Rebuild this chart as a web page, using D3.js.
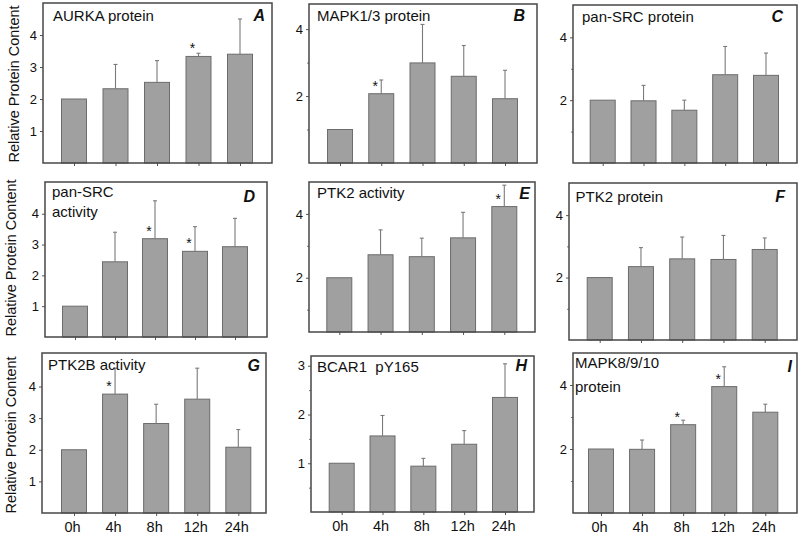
<!DOCTYPE html>
<html>
<head>
<meta charset="utf-8">
<script src="https://cdn.jsdelivr.net/npm/d3@7"></script>
<style>
  html, body { margin: 0; padding: 0; background: #fff; }
  svg { display: block; }
  text { font-family: "Liberation Sans", Arial, Helvetica, sans-serif; }
</style>
</head>
<body>
<svg id="chart" width="800" height="534"></svg>
<script>
// ---------- data ----------
const categories = ["0h", "4h", "8h", "12h", "24h"];
const yAxisTitle = "Relative Protein Content";

const panelLetters = ["A", "B", "C", "D", "E", "F", "G", "H", "I"];
const panelTitles = [
  ["AURKA protein"],
  ["MAPK1/3 protein"],
  ["pan-SRC protein"],
  ["pan-SRC", "activity"],
  ["PTK2 activity"],
  ["PTK2 protein"],
  ["PTK2B activity"],
  ["BCAR1  pY165"],
  ["MAPK8/9/10", "protein"]
];

const aurkaProtein      = [2.00, 2.32, 2.52, 3.33, 3.40];
const aurkaProteinErr   = [0.00, 0.76, 0.68, 0.10, 1.10];
const mapk13Protein     = [1.00, 2.07, 2.99, 2.59, 1.92];
const mapk13ProteinErr  = [0.00, 0.41, 1.15, 0.92, 0.85];
const srcProtein        = [2.00, 1.98, 1.68, 2.81, 2.79];
const srcProteinErr     = [0.00, 0.49, 0.32, 0.90, 0.71];
const srcActivity       = [1.00, 2.44, 3.19, 2.78, 2.93];
const srcActivityErr    = [0.00, 0.96, 1.23, 0.80, 0.92];
const ptk2Activity      = [2.00, 2.72, 2.66, 3.25, 4.23];
const ptk2ActivityErr   = [0.00, 0.78, 0.58, 0.80, 0.67];
const ptk2Protein       = [2.00, 2.35, 2.60, 2.58, 2.90];
const ptk2ProteinErr    = [0.00, 0.61, 0.70, 0.77, 0.37];
const ptk2bActivity     = [2.00, 3.76, 2.83, 3.60, 2.08];
const ptk2bActivityErr  = [0.00, 0.82, 0.61, 0.98, 0.56];
const bcar1pY165        = [1.00, 1.56, 0.94, 1.39, 2.35];
const bcar1pY165Err     = [0.00, 0.42, 0.16, 0.28, 0.69];
const mapk8910Protein   = [2.00, 1.99, 2.76, 3.95, 3.15];
const mapk8910ProteinErr= [0.00, 0.29, 0.14, 0.62, 0.25];

// indices of bars marked significant (*)
const significance = [[3], [1], [], [2, 3], [4], [], [1], [], [2, 3]];

// y tick labels (major) and unlabeled minor ticks
const ticksFour = [1, 2, 3, 4];
const ticksTwoFour = [2, 4];
const minorOneThree = [1, 3];
const ticksH = [1, 2, 3];
const minorH = [0.5, 1.5, 2.5];

const seriesValues = [aurkaProtein, mapk13Protein, srcProtein, srcActivity, ptk2Activity,
                      ptk2Protein, ptk2bActivity, bcar1pY165, mapk8910Protein];
const seriesErrors = [aurkaProteinErr, mapk13ProteinErr, srcProteinErr, srcActivityErr, ptk2ActivityErr,
                      ptk2ProteinErr, ptk2bActivityErr, bcar1pY165Err, mapk8910ProteinErr];
const majorTicks = [ticksFour, ticksTwoFour, ticksTwoFour, ticksFour, ticksTwoFour,
                    ticksTwoFour, ticksFour, ticksH, ticksTwoFour];
const minorTicks = [[], minorOneThree, minorOneThree, [], minorOneThree,
                    minorOneThree, [], minorH, minorOneThree];
const yDomains = [[0, 5], [0, 4.75], [0, 5.03], [0, 5.03], [0.3, 5.0],
                  [0, 5.03], [0, 5.06], [0, 3.2], [0, 5.0]];

// ---------- layout (positions only) ----------
const layout = [
  { x0: 43,  x1: 272, y0: 3,   y1: 163, c0: 74,    c1: 240,   tx: 53,  ty: 20.7, lx: 265, ly: 20.7 },
  { x0: 309, x1: 537, y0: 4,   y1: 163, c0: 340,   c1: 505,   tx: 317, ty: 20.7, lx: 525, ly: 21 },
  { x0: 573, x1: 797, y0: 5,   y1: 163, c0: 602.7, c1: 766,   tx: 582, ty: 21.7, lx: 783, ly: 21.5 },
  { x0: 45,  x1: 267, y0: 182, y1: 337, c0: 75,    c1: 235,   tx: 52,  ty: 196.7, lx: 255, ly: 201.5, lh: 20 },
  { x0: 309, x1: 535, y0: 182, y1: 332, c0: 339.3, c1: 504.3, tx: 317, ty: 198, lx: 530, ly: 199 },
  { x0: 569, x1: 797, y0: 183, y1: 340, c0: 599.7, c1: 764.7, tx: 575.5, ty: 201.5, lx: 785, ly: 201.5 },
  { x0: 42,  x1: 266, y0: 353, y1: 513, c0: 74,    c1: 238.3, tx: 48,  ty: 370, lx: 260, ly: 371 },
  { x0: 311, x1: 534, y0: 356, y1: 512, c0: 341.7, c1: 505,   tx: 317, ty: 371.5, lx: 527, ly: 371 },
  { x0: 573, x1: 797, y0: 353, y1: 513, c0: 601,   c1: 765.3, tx: 575, ty: 367.7, lx: 792, ly: 371.5, lh: 24 }
];
const yTitlePos = [{ x: 14, y: 84 }, { x: 11, y: 258 }, { x: 11, y: 435 }];
const barWidth = 25;

const svg = d3.select("#chart");

layout.forEach((L, i) => {
  const g = svg.append("g");
  const vals = seriesValues[i], errs = seriesErrors[i];
  const x = d3.scalePoint().domain(categories).range([L.c0, L.c1]);
  const y = d3.scaleLinear().domain(yDomains[i]).range([L.y1, L.y0]);

  // bars
  g.selectAll("rect.bar").data(vals).join("rect")
    .attr("class", "bar")
    .attr("x", (d, j) => x(categories[j]) - barWidth / 2)
    .attr("width", barWidth)
    .attr("y", d => y(d))
    .attr("height", d => y(yDomains[i][0]) - y(d))
    .attr("fill", "#a0a0a0")
    .attr("stroke", "#6c6c6c")
    .attr("stroke-width", 1);

  // error bars (upper only)
  const eb = g.selectAll("g.err").data(vals.map((v, j) => ({ v, e: errs[j], c: categories[j] })).filter(d => d.e > 0))
    .join("g").attr("class", "err");
  eb.append("line")
    .attr("x1", d => x(d.c)).attr("x2", d => x(d.c))
    .attr("y1", d => y(d.v)).attr("y2", d => y(d.v + d.e))
    .attr("stroke", "#7a7a7a").attr("stroke-width", 1.1);
  eb.append("line")
    .attr("x1", d => x(d.c) - 2).attr("x2", d => x(d.c) + 2)
    .attr("y1", d => y(d.v + d.e)).attr("y2", d => y(d.v + d.e))
    .attr("stroke", "#7a7a7a").attr("stroke-width", 1.1);

  // significance stars
  g.selectAll("text.star").data(significance[i]).join("text")
    .attr("class", "star")
    .attr("x", j => x(categories[j]) - 6)
    .attr("y", j => y(vals[j]) - 3)
    .attr("text-anchor", "middle")
    .attr("font-size", 14)
    .attr("fill", "#111")
    .text("*");

  // y axis
  const yAxis = d3.axisLeft(y).tickValues(majorTicks[i]).tickSize(3).tickPadding(3)
    .tickFormat(d3.format("d"));
  const ya = g.append("g").attr("transform", `translate(${L.x0},0)`).call(yAxis);
  ya.select(".domain").remove();
  ya.selectAll(".tick line").attr("stroke", "#555");
  ya.selectAll(".tick text").attr("font-size", 13).attr("fill", "#111")
    .attr("font-family", "'Liberation Sans', Arial, sans-serif");
  const yMinor = d3.axisLeft(y).tickValues(minorTicks[i]).tickSize(2).tickFormat("");
  const ym = g.append("g").attr("transform", `translate(${L.x0},0)`).call(yMinor);
  ym.select(".domain").remove();
  ym.selectAll(".tick line").attr("stroke", "#777");

  // x axis
  const xAxis = d3.axisBottom(x).tickSize(3).tickPadding(4)
    .tickFormat(i >= 6 ? (d => d) : () => "");
  const xa = g.append("g").attr("transform", `translate(0,${L.y1})`).call(xAxis);
  xa.select(".domain").remove();
  xa.selectAll(".tick line").attr("stroke", "#555");
  xa.selectAll(".tick text").attr("font-size", 14.5).attr("fill", "#111")
    .attr("dx", -2).attr("dy", "0.85em")
    .attr("font-family", "'Liberation Sans', Arial, sans-serif");

  // frame
  g.append("rect")
    .attr("x", L.x0).attr("y", L.y0)
    .attr("width", L.x1 - L.x0).attr("height", L.y1 - L.y0)
    .attr("fill", "none").attr("stroke", "#474747").attr("stroke-width", 1.5);

  // title
  const t = g.append("text").attr("x", L.tx).attr("y", L.ty)
    .attr("font-size", 15).attr("fill", "#111").style("white-space", "pre");
  panelTitles[i].forEach((line, k) => {
    t.append("tspan").attr("x", L.tx).attr("y", L.ty + k * (L.lh || 20)).text(line);
  });

  // panel letter
  g.append("text").attr("x", L.lx).attr("y", L.ly)
    .attr("text-anchor", "end")
    .attr("font-size", 16).attr("font-weight", "bold").attr("font-style", "italic")
    .attr("fill", "#111").text(panelLetters[i]);
});

// y axis titles
yTitlePos.forEach(p => {
  svg.append("text")
    .attr("transform", `translate(${p.x},${p.y}) rotate(-90)`)
    .attr("text-anchor", "middle")
    .attr("dominant-baseline", "central")
    .attr("font-size", 14.5)
    .attr("fill", "#111")
    .text(yAxisTitle);
});
</script>
</body>
</html>
